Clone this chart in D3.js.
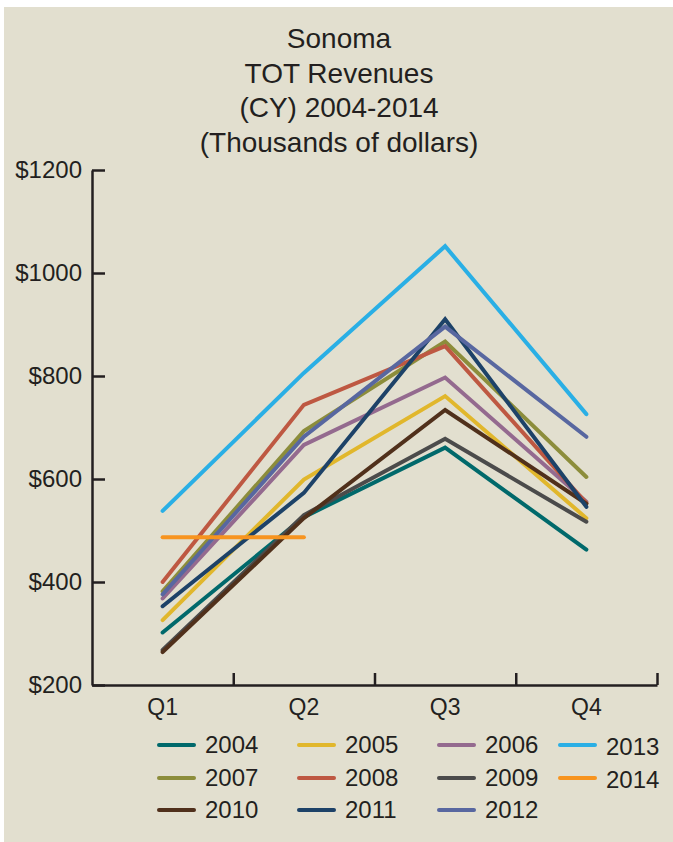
<!DOCTYPE html>
<html>
<head>
<meta charset="utf-8">
<script src="https://cdn.jsdelivr.net/npm/d3@7"></script>
<style>
  body { margin: 0; background: #fff; }
  text { font-family: "Liberation Sans", Arial, sans-serif; fill: #231f20; }
</style>
</head>
<body>
<svg class="chart"></svg>
<script>
var quarters = ["Q1", "Q2", "Q3", "Q4"];
var years = ["2004", "2005", "2006", "2007", "2008", "2009", "2010", "2011", "2012", "2013", "2014"];
var colors = ["#00696b", "#e1b72c", "#946a8f", "#8c8d3b", "#be5842", "#4b4b4b", "#50301b", "#1d4268", "#5867a0", "#2aafe5", "#f7941f"];

// thousands of dollars per quarter, 2014 only has Q1-Q2
var v2004 = [302, 526, 661, 463];
var v2005 = [326, 599, 761, 524];
var v2006 = [368, 666, 797, 556];
var v2007 = [382, 693, 867, 604];
var v2008 = [400, 744, 858, 553];
var v2009 = [268, 530, 678, 517];
var v2010 = [264, 524, 734, 552];
var v2011 = [353, 573, 910, 546];
var v2012 = [376, 682, 896, 682];
var v2013 = [538, 806, 1052, 726];
var v2014 = [487, 487];

var yTicks = [200, 400, 600, 800, 1000, 1200];
var titleLines = ["Sonoma", "TOT Revenues", "(CY) 2004-2014", "(Thousands of dollars)"];

var allValues = [v2004, v2005, v2006, v2007, v2008, v2009, v2010, v2011, v2012, v2013, v2014];
var series = years.map(function(y, i) {
  return {
    key: y,
    color: colors[i],
    values: allValues[i].map(function(v, j) { return {q: quarters[j], v: v}; })
  };
});

var W = 673, H = 842;
var svg = d3.select(".chart").attr("width", W).attr("height", H);

svg.append("rect")
    .attr("x", 4).attr("y", 7)
    .attr("width", W - 4).attr("height", H - 7)
    .attr("fill", "#e2dfcf");

var plot = {left: 92, right: 657, top: 170, bottom: 685};

var x = d3.scaleBand().domain(quarters).range([plot.left, plot.right]);
var xb = d3.scaleLinear().domain([0, 4]).range([plot.left, plot.right]);
var y = d3.scaleLinear().domain([200, 1200]).range([plot.bottom, plot.top]);

// title
svg.append("g").selectAll("text")
    .data(titleLines)
  .enter().append("text")
    .attr("x", 339)
    .attr("y", function(d, i) { return 48 + i * 34.5; })
    .attr("text-anchor", "middle")
    .style("font-size", "28px")
    .text(function(d) { return d; });

// y axis, ticks point inward
var yAxis = d3.axisLeft(y)
    .tickValues(yTicks)
    .tickSizeInner(-13)
    .tickSizeOuter(0)
    .tickPadding(10)
    .tickFormat(function(d) { return "$" + d; });

var gy = svg.append("g")
    .attr("transform", "translate(" + plot.left + ",0)")
    .call(yAxis);

// x axis: ticks at band edges, labels at band centers
var gx = svg.append("g")
    .attr("transform", "translate(0," + plot.bottom + ")")
    .call(d3.axisBottom(xb).tickValues([1, 2, 3, 4]).tickSizeInner(-12).tickSizeOuter(0).tickFormat(""));

var gxl = svg.append("g")
    .attr("transform", "translate(0," + plot.bottom + ")")
    .call(d3.axisBottom(x).tickSize(0).tickPadding(12));
gxl.select(".domain").remove();

svg.selectAll(".domain, .tick line")
    .attr("stroke", "#231f20")
    .attr("stroke-width", 2.5);
svg.selectAll(".tick text")
    .attr("fill", "#231f20")
    .style("font-family", "'Liberation Sans', Arial, sans-serif")
    .style("font-size", "23px");
gy.selectAll(".tick text").style("font-size", "24px");
gxl.selectAll(".tick text").attr("dy", "0.8em");

var line = d3.line()
    .x(function(d) { return x(d.q) + x.bandwidth() / 2; })
    .y(function(d) { return y(d.v); });

svg.append("g").selectAll("path")
    .data(series)
  .enter().append("path")
    .attr("d", function(d) { return line(d.values); })
    .attr("fill", "none")
    .attr("stroke", function(d) { return d.color; })
    .attr("stroke-width", 4)
    .attr("stroke-linecap", "round")
    .attr("stroke-linejoin", "miter");

// legend: 3 columns of 3, then 2013/2014 in a fourth column
var colX = [157, 297, 437, 558];
var rowY = [745, 778, 810];
var legend = svg.append("g").selectAll("g")
    .data(series)
  .enter().append("g")
    .attr("transform", function(d, i) {
      var c = i < 9 ? i % 3 : 3;
      var r = i < 9 ? Math.floor(i / 3) : i - 9;
      return "translate(" + colX[c] + "," + rowY[r] + ")";
    });

legend.append("line")
    .attr("x1", 2).attr("x2", 37)
    .attr("stroke", function(d) { return d.color; })
    .attr("stroke-width", 4)
    .attr("stroke-linecap", "round");

legend.append("text")
    .attr("x", 48)
    .attr("y", function(d, i) { return i >= 9 ? 10 : 8; })
    .style("font-size", "24px")
    .text(function(d) { return d.key; });
</script>
</body>
</html>
